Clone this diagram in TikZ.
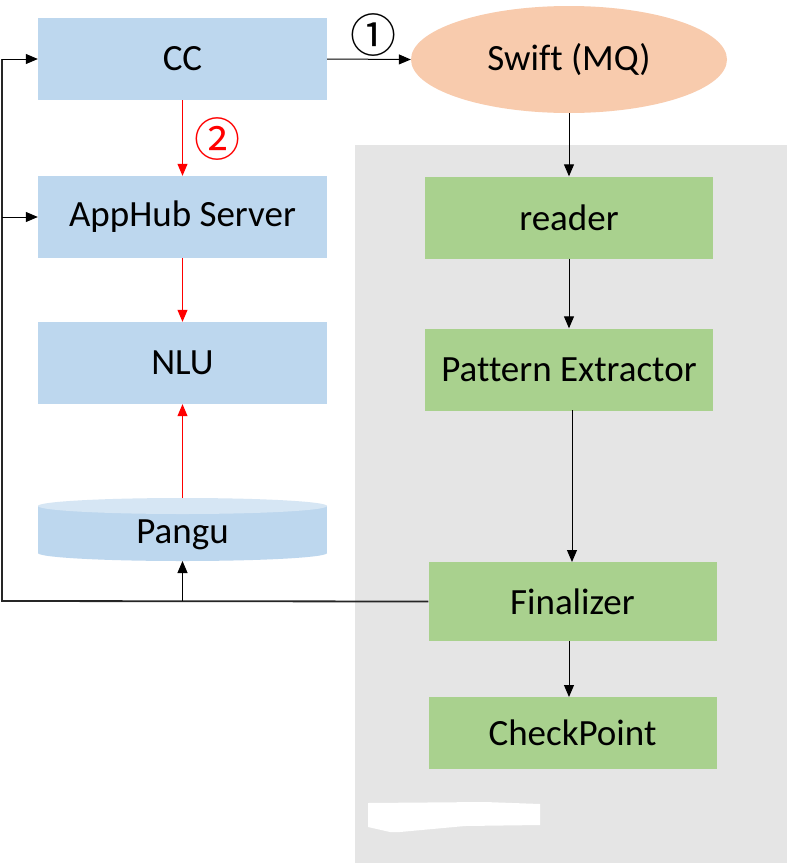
\documentclass[tikz,border=0pt]{standalone}
\usepackage{fontspec}
\setmainfont{Carlito}[Ligatures=NoCommon]
\newfontfamily\cjk{Noto Sans CJK SC}
\usetikzlibrary{arrows.meta,shapes.geometric}
\definecolor{boxblue}{HTML}{BDD7EE}
\definecolor{toplight}{HTML}{D6E6F4}
\definecolor{swiftc}{HTML}{F8CBAD}
\definecolor{boxgreen}{HTML}{A9D18E}
\definecolor{panel}{HTML}{E5E5E5}
\tikzset{
  lbl/.style={font=\fontsize{37}{42}\selectfont},
  bluebox/.style={fill=boxblue, minimum width=289pt, minimum height=82pt, inner sep=0pt, lbl},
  greenbox/.style={fill=boxgreen, minimum width=288pt, minimum height=82pt, inner sep=0pt, lbl},
  arr/.style={draw=black, line width=1pt, -{Triangle[length=12pt,width=10pt]}},
  redarr/.style={draw=red, line width=1pt, -{Triangle[length=12pt,width=10pt]}},
  fb/.style={draw=black!85, line width=1.8pt},
  circnum/.style={font=\cjk\fontsize{46}{50}\selectfont, inner sep=0pt}
}
\begin{document}
\begin{tikzpicture}[x=1pt,y=-1pt]
\useasboundingbox (0,0) rectangle (787,863);
\fill[white] (0,0) rectangle (787,863);
% gray panel
\fill[panel] (355,145) rectangle (787,863);
% white blob
\fill[white] (368,803) -- (485,802) -- (540,804) -- (540,825) -- (465,826) -- (400,832) -- (390,832) -- (368,827) -- cycle;

% left column
\node[bluebox] (cc) at (182.5,59) {CC};
\node[bluebox] (app) at (182.5,217) {AppHub Server};
\node[bluebox] (nlu) at (182.5,363) {NLU};
% Pangu cylinder
\fill[boxblue] (38,506) rectangle (327,553);
\fill[boxblue] (182.5,553) ellipse[x radius=144.5, y radius=8];
\fill[toplight] (182.5,506) ellipse[x radius=144.5, y radius=8];
\node[lbl, inner sep=0pt] (pangu) at (182.5,535) {Pangu};
\coordinate (pangutop) at (182.5,498);
\coordinate (pangubot) at (182.5,561);

% right column
\node[fill=swiftc, ellipse, minimum width=316pt, minimum height=107pt, inner sep=0pt, lbl] (swift) at (569,59.5) {Swift (MQ)};
\node[greenbox] (reader) at (569,217.5) {reader};
\node[greenbox] (pat) at (569,369.5) {Pattern Extractor};
\node[greenbox, minimum height=79pt] (fin) at (572.5,601.5) {Finalizer};
\node[greenbox, minimum height=72pt] (chk) at (572.5,733) {CheckPoint};

% connectors
\draw[arr] (cc.east) -- (swift.west);
\node[circnum] (n1) at (373,35) {①};
\draw[redarr] (cc.south) -- (app.north);
\node[circnum, text=red] (n2) at (217,139) {②};
\draw[redarr] (app.south) -- (nlu.north);
\draw[redarr] (pangutop) -- (nlu.south);
\draw[arr] (swift.south) -- (reader.north);
\draw[arr] (reader.south) -- (pat.north);
\draw[arr] (572,410) -- (572,562);
\draw[arr] (569,641) -- (569,697);

% feedback
\coordinate (fl) at (2,601);
\coordinate (ftop) at (2,59);
\coordinate (fmid) at (2,217);
\coordinate (fp) at (182.5,601);
\draw[fb] (fin.west) -- (fl) -- (ftop);
\draw[arr] (ftop) -- (cc.west);
\draw[arr] (fmid) -- (app.west);
\draw[arr] (fp) -- (pangubot);
\end{tikzpicture}
\end{document}
